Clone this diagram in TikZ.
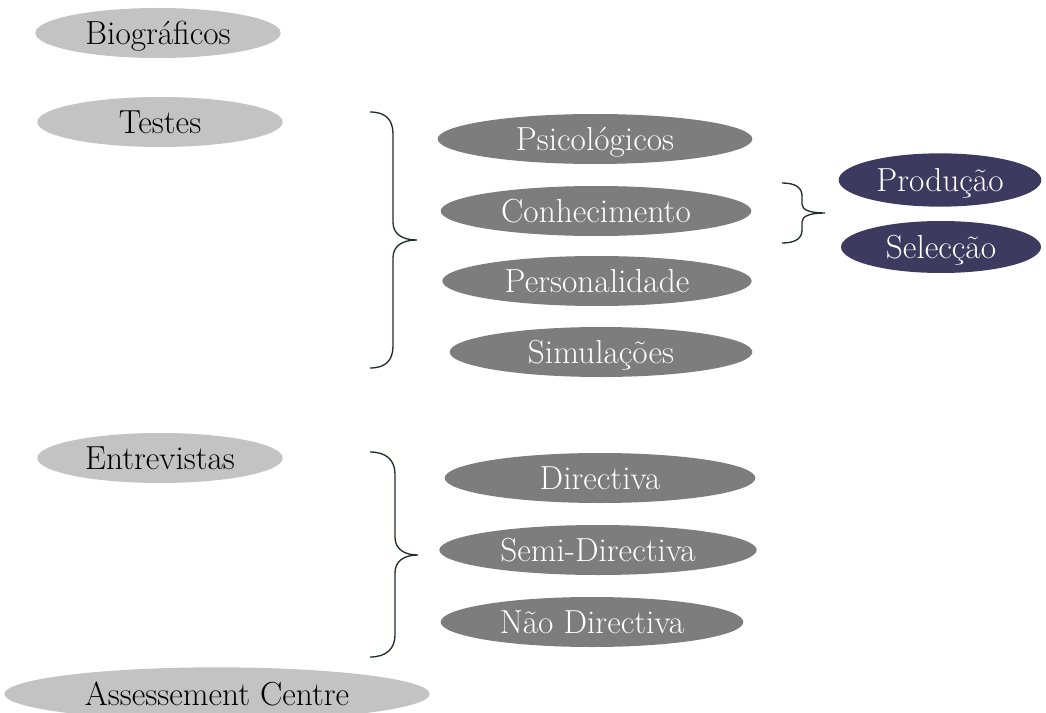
\documentclass[tikz,border=0pt]{standalone}
\usepackage{tikz}
\usetikzlibrary{shapes.geometric}

\definecolor{lightgr}{RGB}{195,195,195}
\definecolor{midgr}{RGB}{125,125,125}
\definecolor{navyblue}{RGB}{60,58,94}
\definecolor{bracecol}{RGB}{30,48,34}

\begin{document}
\begin{tikzpicture}[%
      x=0.75pt, y=-0.75pt,
      every node/.style={ellipse, inner sep=0pt, font=\fontsize{25}{29}\selectfont,
        text height=17pt, text depth=0pt},
      light/.style={fill=lightgr, text=black, minimum width=184pt, minimum height=37.5pt},
      mid/.style={fill=midgr, text=white, minimum width=233pt, minimum height=37.5pt},
      navy/.style={fill=navyblue, text=white, minimum width=152pt, minimum height=40pt},
      bracket/.style={draw=bracecol, line width=1pt},
      ]
      \useasboundingbox (0,0) rectangle (1046,713);

      % left column
      \node[light] (bio) at (158,33) {Biogr\'aficos};
      \node[light] (testes) at (160,122) {Testes};
      \node[light] (entrev) at (160,458) {Entrevistas};
      \node[light, minimum width=319pt, minimum height=40pt] (assess) at (217,694) {Assessement Centre};

      % tests
      \node[mid, minimum width=236pt] (psico) at (595,139) {Psicol\'ogicos};
      \node[mid] (conhec) at (596,211) {Conhecimento};
      \node[mid, minimum width=232pt] (person) at (597,281) {Personalidade};
      \node[mid, minimum width=227pt] (simul) at (601,352) {Simula\c{c}\~oes};

      % interviews
      \node[mid] (dir) at (600,478) {Directiva};
      \node[mid, minimum width=238pt] (semidir) at (598,550) {Semi-Directiva};
      \node[mid, minimum width=227pt] (naodir) at (592,622) {N\~ao Directiva};

      % knowledge
      \node[navy] (prod) at (940,180) {Produ\c{c}\~ao};
      \node[navy, minimum width=150pt, minimum height=39pt] (selec) at (941,247) {Selec\c{c}\~ao};

      % braces
      \draw[bracket] (370,112) .. controls (386,112) and (393,120) .. (393,134)
            -- (393,222) .. controls (393,234) and (402,240) .. (417,240)
            .. controls (402,240) and (393,246) .. (393,258)
            -- (393,346) .. controls (393,360) and (386,368) .. (370,368);
      \draw[bracket] (370,452) .. controls (386,452) and (395,460) .. (395,474)
            -- (395,537) .. controls (395,549) and (404,555) .. (418,555)
            .. controls (404,555) and (395,561) .. (395,573)
            -- (395,635) .. controls (395,649) and (386,657) .. (370,657);
      \draw[bracket] (782,183) .. controls (796,183) and (802,188) .. (802,196)
            -- (802,204) .. controls (802,210) and (810,213) .. (825,213)
            .. controls (810,213) and (802,216) .. (802,222)
            -- (802,230) .. controls (802,238) and (796,243) .. (782,243);
      \end{tikzpicture}
\end{document}
